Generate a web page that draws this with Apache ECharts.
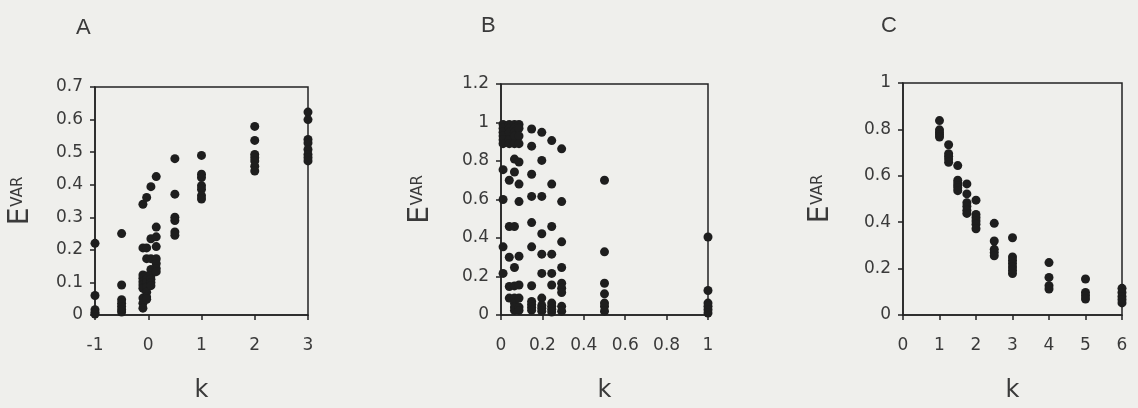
<!DOCTYPE html>
<html>
<head>
<meta charset="utf-8">
<script src="https://cdn.jsdelivr.net/npm/echarts@6/dist/echarts.min.js"></script>
<style>
html,body{margin:0;padding:0;background:#efefec;}
#c{width:1138px;height:408px;}
</style>
</head>
<body>
<div id="c"></div>
<script>
// Panel A
const aK = [-1, -0.5, -0.1, -0.03, 0.05, 0.15, 0.5, 1, 2, 3];
const aE = [
  [0.22, 0.06, 0.016, 0.008, 0.003],
  [0.25, 0.092, 0.047, 0.036, 0.026, 0.016, 0.009],
  [0.34, 0.206, 0.123, 0.113, 0.102, 0.092, 0.082, 0.052, 0.036, 0.021],
  [0.361, 0.206, 0.173, 0.12, 0.11, 0.1, 0.085, 0.07, 0.055, 0.048],
  [0.394, 0.234, 0.173, 0.14, 0.12, 0.11, 0.1, 0.09],
  [0.425, 0.27, 0.24, 0.21, 0.173, 0.158, 0.143, 0.133],
  [0.48, 0.371, 0.30, 0.29, 0.255, 0.245],
  [0.49, 0.432, 0.422, 0.397, 0.386, 0.366, 0.356],
  [0.579, 0.536, 0.493, 0.483, 0.473, 0.457, 0.442],
  [0.623, 0.6, 0.539, 0.528, 0.508, 0.493, 0.483, 0.473]
];

// Panel B
const bK = [0.01, 0.04, 0.065, 0.087, 0.148, 0.197, 0.245, 0.293, 0.5, 1];
const bE = [
  [0.99, 0.97, 0.95, 0.93, 0.91, 0.89, 0.755, 0.60, 0.354, 0.216],
  [0.99, 0.97, 0.95, 0.91, 0.89, 0.70, 0.46, 0.30, 0.148, 0.088],
  [0.99, 0.97, 0.95, 0.93, 0.89, 0.81, 0.743, 0.46, 0.247, 0.151, 0.088, 0.062, 0.041, 0.024],
  [0.99, 0.97, 0.93, 0.89, 0.795, 0.68, 0.589, 0.305, 0.156, 0.088, 0.041, 0.024],
  [0.966, 0.877, 0.731, 0.616, 0.48, 0.354, 0.152, 0.07, 0.055, 0.04, 0.025],
  [0.949, 0.803, 0.616, 0.422, 0.316, 0.216, 0.088, 0.05, 0.035, 0.02],
  [0.906, 0.68, 0.46, 0.316, 0.216, 0.156, 0.062, 0.045, 0.03, 0.015],
  [0.863, 0.589, 0.38, 0.247, 0.165, 0.139, 0.117, 0.045, 0.02],
  [0.70, 0.328, 0.165, 0.11, 0.062, 0.045, 0.02],
  [0.405, 0.127, 0.062, 0.045, 0.027, 0.01]
];

// Panel C
const cK = [1, 1.25, 1.5, 1.75, 2, 2.5, 3, 4, 5, 6];
const cE = [
  [0.838, 0.798, 0.787, 0.777, 0.767],
  [0.734, 0.695, 0.684, 0.672, 0.658],
  [0.644, 0.581, 0.569, 0.558, 0.548, 0.536],
  [0.565, 0.522, 0.484, 0.469, 0.452, 0.438],
  [0.495, 0.433, 0.419, 0.405, 0.391, 0.372],
  [0.395, 0.319, 0.283, 0.269, 0.255],
  [0.333, 0.25, 0.236, 0.222, 0.207, 0.193, 0.179],
  [0.226, 0.162, 0.126, 0.112],
  [0.155, 0.097, 0.083, 0.069],
  [0.115, 0.097, 0.08, 0.066, 0.052]
];

const panelTitles = ['A', 'B', 'C'];
const xName = 'k';

function pts(ks, es) {
  const out = [];
  ks.forEach((k, i) => es[i].forEach(v => out.push([k, v])));
  return out;
}

const ink = '#232323';
const txt = '#3a3a3a';
const labelFont = 'DejaVu Sans';
const gridBase = {show: true, borderColor: ink, borderWidth: 1.5, backgroundColor: 'transparent'};
const grids = [
  Object.assign({left: 95, top: 87, width: 213, height: 230}, gridBase),
  Object.assign({left: 501, top: 84, width: 207, height: 233}, gridBase),
  Object.assign({left: 903, top: 83, width: 219, height: 233}, gridBase)
];

function xAx(i, min, max, interval) {
  return {
    type: 'value', gridIndex: i, min: min, max: max, interval: interval,
    name: xName, nameLocation: 'middle', nameGap: 64,
    nameTextStyle: {fontFamily: labelFont, fontSize: 24, color: txt},
    axisLine: {show: true, onZero: false, lineStyle: {color: ink, width: 1.5}},
    axisTick: {show: true, inside: false, length: 5, lineStyle: {color: ink, width: 1.5}},
    axisLabel: {fontFamily: labelFont, fontSize: 17, color: txt, margin: 22},
    splitLine: {show: false}
  };
}
function yAx(i, min, max, interval, gap) {
  return {
    type: 'value', gridIndex: i, min: min, max: max, interval: interval,
    name: '{e|E}{v|VAR}', nameLocation: 'middle', nameRotate: 90, nameGap: gap,
    nameTextStyle: {color: txt, fontFamily: labelFont,
      rich: {e: {fontSize: 28, fontFamily: labelFont, color: txt},
             v: {fontSize: 15, fontFamily: labelFont, color: txt, padding: [0, 0, 5, 1]}}},
    axisLine: {show: true, onZero: false, lineStyle: {color: ink, width: 1.5}},
    axisTick: {show: true, inside: false, length: 5, lineStyle: {color: ink, width: 1.5}},
    axisLabel: {fontFamily: labelFont, fontSize: 17, color: txt, margin: 12},
    splitLine: {show: false}
  };
}

const chart = echarts.init(document.getElementById('c'), null, {renderer: 'canvas'});
const titleStyle = {fontFamily: 'Liberation Sans', fontWeight: 'normal', fontSize: 22, color: txt};
chart.setOption({
  backgroundColor: '#efefec',
  animation: false,
  title: [
    {text: panelTitles[0], left: 71, top: 12, textStyle: titleStyle},
    {text: panelTitles[1], left: 476, top: 10, textStyle: titleStyle},
    {text: panelTitles[2], left: 876, top: 10, textStyle: titleStyle}
  ],
  grid: grids,
  xAxis: [xAx(0, -1, 3, 1), xAx(1, 0, 1, 0.2), xAx(2, 0, 6, 1)],
  yAxis: [yAx(0, 0, 0.7, 0.1, 60), yAx(1, 0, 1.2, 0.2, 66), yAx(2, 0, 1, 0.2, 68)],
  series: [
    {type: 'scatter', xAxisIndex: 0, yAxisIndex: 0, data: pts(aK, aE)},
    {type: 'scatter', xAxisIndex: 1, yAxisIndex: 1, data: pts(bK, bE)},
    {type: 'scatter', xAxisIndex: 2, yAxisIndex: 2, data: pts(cK, cE)}
  ].map(s => Object.assign(s, {symbol: 'circle', symbolSize: 9, itemStyle: {color: '#1e1e1e', opacity: 1}, clip: false}))
});
</script>
</body>
</html>
